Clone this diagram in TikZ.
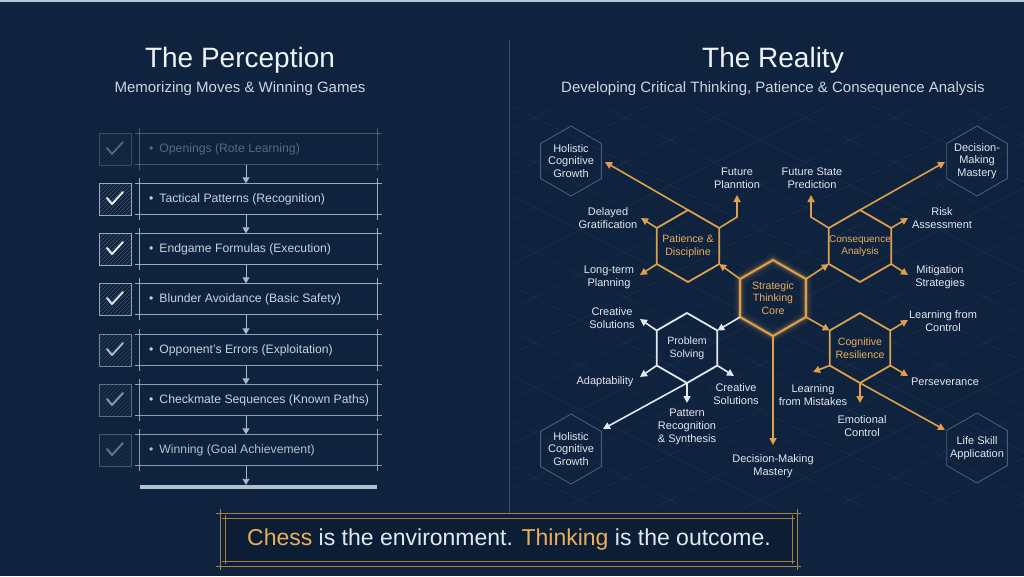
\documentclass[tikz,border=0pt]{standalone}
\usepackage{fontspec}
\setmainfont{Liberation Sans}
\usetikzlibrary{arrows.meta}
\definecolor{bg}{RGB}{15,35,62}
\definecolor{bgd}{RGB}{12,30,54}
\definecolor{org}{RGB}{222,160,76}
\definecolor{orgl}{RGB}{234,174,92}
\definecolor{wht}{RGB}{226,232,240}
\definecolor{ttl}{RGB}{240,244,248}
\definecolor{sub}{RGB}{205,214,226}
\definecolor{itm}{RGB}{200,210,222}
\definecolor{lgray}{RGB}{170,184,202}
\definecolor{hexf}{RGB}{70,92,122}
\definecolor{gridc}{RGB}{120,145,180}
\definecolor{divc}{RGB}{58,78,106}

\newcommand\mkhex[4]{%
  \coordinate (#1) at (#2,#3);
  \path (#1) ++(0,-#4) coordinate (#1-t)
        (#1) ++({-0.866*#4},{-0.5*#4}) coordinate (#1-ul)
        (#1) ++({-0.866*#4},{0.5*#4}) coordinate (#1-ll)
        (#1) ++(0,#4) coordinate (#1-b)
        (#1) ++({0.866*#4},{0.5*#4}) coordinate (#1-lr)
        (#1) ++({0.866*#4},{-0.5*#4}) coordinate (#1-ur);
}
\newcommand\drawhex[2]{\draw[#2] (#1-t) -- (#1-ul) -- (#1-ll) -- (#1-b) -- (#1-lr) -- (#1-ur) -- cycle;}

\begin{document}
\begin{tikzpicture}[x=1pt,y=-1pt,
  ttlfont/.style={font=\fontsize{28}{32}\selectfont, text=ttl, inner sep=0},
  subfont/.style={font=\fontsize{15}{18}\selectfont, text=sub, inner sep=0},
  itemtxt/.style={font=\fontsize{12.2}{14}\selectfont, text=itm, anchor=west, inner sep=0},
  rowbox/.style={minimum width=237pt, minimum height=31pt, inner sep=0},
  rowline/.style={draw=lgray, line width=0.8pt},
  rowarrow/.style={draw=lgray, line width=0.9pt, -{Triangle[length=6pt,width=7pt]}},
  chkbox/.style={minimum size=32pt, inner sep=0, draw=lgray, line width=0.8pt},
  hexO/.style={draw=org, line width=1.8pt, line join=miter},
  hexW/.style={draw=wht, line width=1.8pt},
  hexF/.style={draw=hexf, line width=0.9pt},
  arO/.style={draw=org, line width=1.6pt, -{Triangle[length=7pt,width=7pt]}},
  arW/.style={draw=wht, line width=1.6pt, -{Triangle[length=7pt,width=7pt]}},
  lbl/.style={font=\fontsize{11}{12.8}\selectfont, text=wht, align=center, inner sep=0},
  hlbl/.style={font=\fontsize{10.6}{12.6}\selectfont, align=center, inner sep=0},
]
\useasboundingbox (0,0) rectangle (1024,576);
\fill[bg] (0,0) rectangle (1024,576);
\fill[lgray!80] (0,0) rectangle (1024,2);

% grid on the right panel
\begin{scope}
\clip (513,105) rectangle (1024,508);
\foreach \c in {-420,-375,...,280} {
  \draw[gridc, opacity=0.10, line width=0.6pt] (500,{0.5*500+\c}) -- (1030,{0.5*1030+\c});
}
\foreach \c in {340,385,...,1040} {
  \draw[gridc, opacity=0.10, line width=0.6pt] (500,{-0.5*500+\c}) -- (1030,{-0.5*1030+\c});
}
\end{scope}

% divider
\draw[divc, line width=0.8pt] (509,40) -- (509,513);

% titles
\node[ttlfont] (tl) at (240,60) {The Perception};
\node[subfont] (sl) at (240,89) {Memorizing Moves \& Winning Games};
\node[ttlfont] (tr) at (773,60) {The Reality};
\node[subfont] (sr) at (773,89) {Developing Critical Thinking, Patience \& Consequence Analysis};

% left list
\foreach \i/\y/\txt/\cop/\lop/\top in {
  1/149/Openings (Rote Learning)/0.28/0.35/0.4,
  2/199/Tactical Patterns (Recognition)/0.9/0.9/1,
  3/249/Endgame Formulas (Execution)/0.9/0.9/1,
  4/299/Blunder Avoidance (Basic Safety)/0.85/0.9/1,
  5/350/Opponent's Errors (Exploitation)/0.65/0.85/1,
  6/400/Checkmate Sequences (Known Paths)/0.5/0.85/1,
  7/450/Winning (Goal Achievement)/0.35/0.8/0.9} {
  \node[rowbox] (b\i) at (258.5,\y) {};
  \draw[rowline, opacity=\lop] ([xshift=-5pt]b\i.north west) -- ([xshift=5pt]b\i.north east);
  \draw[rowline, opacity=\lop] ([xshift=-5pt]b\i.south west) -- ([xshift=5pt]b\i.south east);
  \draw[rowline, opacity=\lop] ([yshift=5pt]b\i.north west) -- ([yshift=-5pt]b\i.south west);
  \draw[rowline, opacity=\lop] ([yshift=5pt]b\i.north east) -- ([yshift=-5pt]b\i.south east);
  \node[itemtxt, text opacity=\top] (t\i) at (149,\y) {\textbullet\hspace{6pt}\txt};
  \node[chkbox, draw opacity=\cop,
    path picture={
      \foreach \k in {-30,-26,...,30}{
        \draw[lgray, opacity=0.35*\cop, line width=0.5pt]
          ([xshift=\k pt]path picture bounding box.south west) -- ++(34pt,34pt);}
    }] (c\i) at (115,\y) {};
  \draw[white, opacity=\cop, line width=2pt, line cap=round, line join=round]
    ([shift={(-8pt,1pt)}]c\i.center) -- ++(5pt,-6pt) -- ++(11pt,12pt);
}
\node[fill=lgray!90, minimum width=237pt, minimum height=4pt, inner sep=0] (bar) at (258.5,487) {};
\foreach \i [evaluate=\i as \j using int(\i+1)] in {1,...,6} {
  \draw[rowarrow] ([xshift=-12.5pt]b\i.south) -- ([xshift=-12.5pt]b\j.north);
}
\draw[rowarrow] ([xshift=-12.5pt]b7.south) -- ([xshift=-12.5pt]bar.north);

% hexagons
\mkhex{P}{688}{246}{36}
\mkhex{C}{860}{246}{36}
\mkhex{S}{687}{348}{35}
\mkhex{R}{860}{348}{35}
\mkhex{K}{773}{298}{38}
\mkhex{H1}{571}{161}{35}
\mkhex{D1}{977}{161}{35}
\mkhex{H2}{571}{449}{35}
\mkhex{L1}{977}{448}{35}

\drawhex{H1}{hexF}
\drawhex{D1}{hexF}
\drawhex{H2}{hexF}
\drawhex{L1}{hexF}

% glow of core
\drawhex{K}{draw=org, line width=12pt, opacity=0.06}
\drawhex{K}{draw=org, line width=7pt, opacity=0.12}
\drawhex{K}{draw=org, line width=4pt, opacity=0.2}
\drawhex{K}{hexO, line width=2pt}
\drawhex{P}{hexO}
\drawhex{C}{hexO}
\drawhex{R}{hexO}
\drawhex{S}{hexW}

% hex labels
\node[hlbl, text=orgl] (Ktxt) at (K) {Strategic\\Thinking\\Core};
\node[hlbl, text=orgl] (Ptxt) at (P) {Patience \&\\Discipline};
\node[hlbl, text=orgl, font=\fontsize{10}{12.6}\selectfont] (Ctxt) at (C) {Consequence\\Analysis};
\node[hlbl, text=wht] (Stxt) at (S) {Problem\\Solving};
\node[hlbl, text=orgl] (Rtxt) at (R) {Cognitive\\Resilience};
\node[lbl] (H1txt) at (H1) {Holistic\\Cognitive\\Growth};
\node[lbl] (D1txt) at (D1) {Decision-\\Making\\Mastery};
\node[lbl] (H2txt) at (H2) {Holistic\\Cognitive\\Growth};
\node[lbl] (L1txt) at (L1) {Life Skill\\Application};

% outer labels
\node[lbl] (fp) at (737,178) {Future\\Planntion};
\node[lbl] (dg) at (608,218) {Delayed\\Gratification};
\node[lbl] (lt) at (609,277) {Long-term\\Planning};
\node[lbl] (fs) at (812,178) {Future State\\Prediction};
\node[lbl] (ra) at (942,218) {Risk\\Assessment};
\node[lbl] (ms) at (940,277) {Mitigation\\Strategies};
\node[lbl] (cs1) at (612,318) {Creative\\Solutions};
\node[lbl] (ad) at (605,382) {Adaptability};
\node[lbl] (cs2) at (736,394) {Creative\\Solutions};
\node[lbl] (pr) at (687,427) {Pattern\\Recognition\\\& Synthesis};
\node[lbl] (dm) at (773,466) {Decision-Making\\Mastery};
\node[lbl] (lc) at (943,321) {Learning from\\Control};
\node[lbl] (pe) at (945,382) {Perseverance};
\node[lbl] (lm) at (813,395) {Learning\\from Mistakes};
\node[lbl] (ec) at (862,426) {Emotional\\Control};

% arrow end coordinates
\coordinate (tH1) at (605,162);
\coordinate (bFP) at (737,217);
\coordinate (tFP) at (737,195);
\coordinate (tDG) at (641,218);
\coordinate (tLT) at (640,275);
\coordinate (tD1) at (945,162);
\coordinate (bFS) at (811,217);
\coordinate (tFS) at (811,195);
\coordinate (tRA) at (908,218);
\coordinate (tMS) at (908,275);
\coordinate (tCS1) at (640,319);
\coordinate (tAD) at (640,377);
\coordinate (tCS2) at (734,376);
\coordinate (tPR) at (687,403);
\coordinate (tH2) at (603,429);
\coordinate (tLC) at (908,320);
\coordinate (tPE) at (908,376);
\coordinate (tLM) at (813,372);
\coordinate (tEC) at (860,403);
\coordinate (tL1) at (945,430);
\coordinate (tDM) at (773,445);

% core connectors
\draw[arO] (K-ul) -- (P-lr);
\draw[arO] (K-ur) -- (C-ll);
\draw[arW] (K-ll) -- (S-ur);
\draw[arO] (K-lr) -- (R-ul);
\draw[arO] (K-b) -- (tDM);

% patience
\draw[arO] (P-t) -- (tH1);
\draw[arO] (P-ur) -- (bFP) -- (tFP);
\draw[arO] (P-ul) -- (tDG);
\draw[arO] (P-ll) -- (tLT);
% consequence
\draw[arO] (C-t) -- (tD1);
\draw[arO] (C-ul) -- (bFS) -- (tFS);
\draw[arO] (C-ur) -- (tRA);
\draw[arO] (C-lr) -- (tMS);
% problem solving
\draw[arW] (S-ul) -- (tCS1);
\draw[arW] (S-ll) -- (tAD);
\draw[arW] (S-lr) -- (tCS2);
\draw[arW] (S-b) -- (tPR);
\draw[arW] (S-b) -- (tH2);
% resilience
\draw[arO] (R-ur) -- (tLC);
\draw[arO] (R-lr) -- (tPE);
\draw[arO] (R-ll) -- (tLM);
\draw[arO] (R-b) -- (tEC);
\draw[arO] (R-b) -- (tL1);

% banner
\fill[bgd] (220,513) rectangle (797,566);
\draw[org, opacity=0.75, line width=0.8pt] (216,513) -- (801,513) (216,566) -- (801,566)
  (220,509) -- (220,570) (797,509) -- (797,570);
\draw[org, opacity=0.75, line width=0.8pt] (222,518) -- (795,518) (222,561) -- (795,561)
  (225,515) -- (225,564) (792,515) -- (792,564);
\node[font=\fontsize{23}{26}\selectfont, inner sep=0, text=wht] (banner) at (509,540)
  {\textcolor{orgl}{Chess} is the environment. \textcolor{orgl}{Thinking} is the outcome.};
\end{tikzpicture}
\end{document}
